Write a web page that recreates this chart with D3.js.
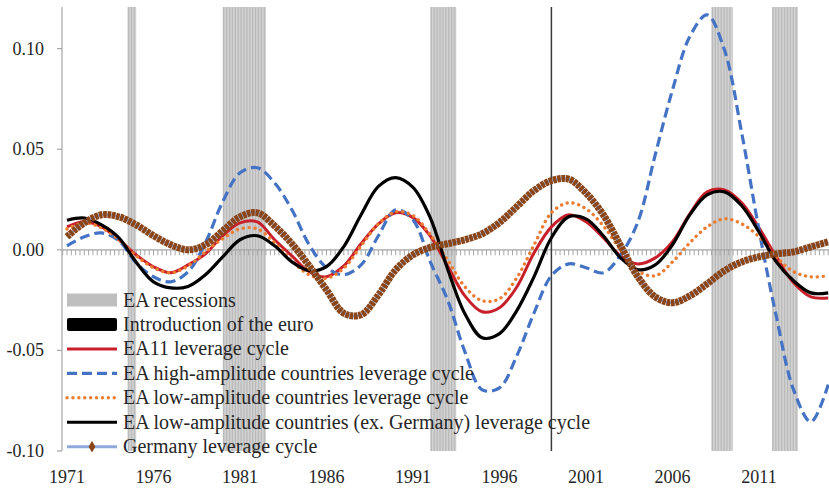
<!DOCTYPE html>
<html>
<head>
<meta charset="utf-8">
<script src="https://cdn.jsdelivr.net/npm/d3@7"></script>
<style>
  body { margin: 0; background: #fff; }
</style>
</head>
<body>
<div id="chart"></div>
<script>
// annual readings, 1971..2015
var years = d3.range(1971, 2016);

var ea11 = [0.0114,0.0139,0.0114,0.0050,-0.0025,-0.0084,-0.0114,-0.0075,-0.0020,0.0070,
            0.0134,0.0139,0.0050,-0.0030,-0.0109,-0.0134,-0.0080,0.0030,0.0129,0.0184,
            0.0160,0.0068,-0.0080,-0.0229,-0.0308,-0.0288,-0.0185,-0.0015,0.0114,0.0174,
            0.0139,0.0060,-0.0030,-0.0070,-0.0040,0.0040,0.0179,0.0288,0.0298,0.0234,
            0.0109,-0.0035,-0.0164,-0.0234,-0.0239];

var highAmp = [0.0020,0.0065,0.0084,0.0045,-0.0065,-0.0134,-0.0159,-0.0109,0.0035,0.0239,
               0.0383,0.0408,0.0333,0.0199,0.0025,-0.0089,-0.0124,-0.0075,0.0070,0.0199,
               0.0149,-0.0060,-0.0249,-0.0507,-0.0696,-0.0686,-0.0527,-0.0313,-0.0129,-0.0070,
               -0.0089,-0.0114,-0.0025,0.0139,0.0472,0.0795,0.1060,0.1168,0.0994,0.0581,
               0.0099,-0.0331,-0.0696,-0.0855,-0.0670];

var lowAmp = [0.0104,0.0134,0.0109,0.0050,-0.0030,-0.0089,-0.0114,-0.0080,-0.0010,0.0055,
              0.0104,0.0104,0.0035,-0.0055,-0.0124,-0.0141,-0.0091,0.0020,0.0129,0.0189,
              0.0170,0.0075,-0.0050,-0.0184,-0.0253,-0.0243,-0.0139,0.0025,0.0184,0.0234,
              0.0204,0.0119,0.0000,-0.0104,-0.0129,-0.0060,0.0035,0.0114,0.0154,0.0129,
              0.0065,-0.0035,-0.0109,-0.0134,-0.0129];

var lowAmpExDe = [0.0147,0.0158,0.0124,0.0060,-0.0062,-0.0159,-0.0189,-0.0182,-0.0124,-0.0035,
                  0.0050,0.0070,0.0020,-0.0060,-0.0104,-0.0083,0.0016,0.0174,0.0315,0.0359,
                  0.0310,0.0159,-0.0095,-0.0318,-0.0437,-0.0417,-0.0302,-0.0133,0.0060,0.0164,
                  0.0154,0.0070,-0.0040,-0.0099,-0.0075,0.0025,0.0174,0.0273,0.0288,0.0219,
                  0.0089,-0.0060,-0.0154,-0.0214,-0.0214];

var germany = [0.0065,0.0134,0.0174,0.0164,0.0124,0.0070,0.0025,0.0000,0.0025,0.0094,
               0.0164,0.0184,0.0119,0.0030,-0.0080,-0.0199,-0.0315,-0.0323,-0.0224,-0.0099,
               -0.0025,0.0012,0.0030,0.0050,0.0080,0.0136,0.0215,0.0295,0.0344,0.0351,
               0.0282,0.0174,0.0020,-0.0134,-0.0234,-0.0263,-0.0229,-0.0169,-0.0104,-0.0060,
               -0.0035,-0.0020,-0.0010,0.0015,0.0040];

// recession periods (start, end) in years
var recStart = [1974.5, 1980.0, 1992.0, 2008.25, 2011.75];
var recEnd   = [1975.0, 1982.5, 1993.5, 2009.5, 2013.25];
var euroYear = 1999;

var xLabels = [1971, 1976, 1981, 1986, 1991, 1996, 2001, 2006, 2011];
var yTicks = [-0.10, -0.05, 0.00, 0.05, 0.10];

var legendNames = ["EA recessions", "Introduction of the euro", "EA11 leverage cycle",
  "EA high-amplitude countries leverage cycle", "EA low-amplitude countries leverage cycle",
  "EA low-amplitude countries (ex. Germany) leverage cycle", "Germany leverage cycle"];

var FONT = "'Liberation Serif'";
var W = 829, H = 489;
var svg = d3.select('#chart').append('svg').attr('width', W).attr('height', H);

var x = d3.scaleLinear().domain([1971, 2015]).range([67, 828.2]);
var y = d3.scaleLinear().domain([-0.10, 0.12]).range([451, 8.4]);
var axisX = 62, plotTop = 7, plotBottom = 451;

// recession bars, drawn as fine vertical stripes
recStart.forEach(function (s, i) {
  var x0 = x(s), x1 = x(recEnd[i]);
  var g = svg.append('g');
  g.append('rect').attr('x', x0).attr('y', plotTop).attr('width', x1 - x0).attr('height', plotBottom - plotTop)
    .attr('fill', '#d2d2d2');
  g.selectAll('line').data(d3.range(x0 + 1, x1 - 0.5, 2.9)).enter().append('line')
    .attr('x1', function (d) { return d; }).attr('x2', function (d) { return d; })
    .attr('y1', plotTop).attr('y2', plotBottom)
    .attr('stroke', '#bababa').attr('stroke-width', 1.3);
});

// y axis
svg.append('line').attr('x1', axisX).attr('x2', axisX).attr('y1', plotTop).attr('y2', plotBottom)
  .attr('stroke', '#a6a6a6').attr('stroke-width', 1.2);
svg.append('g').selectAll('line').data(yTicks).enter().append('line')
  .attr('x1', axisX - 5).attr('x2', axisX).attr('y1', function (d) { return y(d); }).attr('y2', function (d) { return y(d); })
  .attr('stroke', '#a6a6a6').attr('stroke-width', 1.2);
svg.append('g').selectAll('text').data(yTicks).enter().append('text')
  .attr('x', 44).attr('y', function (d) { return y(d) + 6; })
  .attr('text-anchor', 'end').style('font-family', FONT).style('font-size', '18px').style('fill', '#262626')
  .text(function (d) { return d.toFixed(2); });

// x axis at zero with quarterly ticks
var qTicks = d3.range(0, 178).map(function (i) { return 1970.75 + i * 0.25; });
svg.append('g').selectAll('line').data(qTicks).enter().append('line')
  .attr('x1', function (d) { return x(d); }).attr('x2', function (d) { return x(d); })
  .attr('y1', y(0)).attr('y2', y(0) + 5.5)
  .attr('stroke', '#a6a6a6').attr('stroke-width', 1);
svg.append('line').attr('x1', axisX).attr('x2', W).attr('y1', y(0)).attr('y2', y(0))
  .attr('stroke', '#a6a6a6').attr('stroke-width', 1.3);
svg.append('g').selectAll('text').data(xLabels).enter().append('text')
  .attr('x', function (d) { return x(d); }).attr('y', 483)
  .attr('text-anchor', 'middle').style('font-family', FONT).style('font-size', '18px').style('fill', '#262626')
  .text(function (d) { return d; });

// euro line
svg.append('line').attr('x1', x(euroYear)).attr('x2', x(euroYear)).attr('y1', plotTop).attr('y2', plotBottom)
  .attr('stroke', '#3a3a3a').attr('stroke-width', 1.5);

var line = d3.line()
  .x(function (d, i) { return x(years[i]); })
  .y(function (d) { return y(d); })
  .curve(d3.curveCatmullRom.alpha(0.5));

var styles = [
  { data: ea11, color: '#c8202a', width: 3, dash: null },
  { data: highAmp, color: '#4472c4', width: 3.2, dash: '10,5' },
  { data: lowAmp, color: '#ed7d31', width: 3.4, dash: '0.1,5.8', cap: 'round' },
  { data: lowAmpExDe, color: '#000', width: 3.2, dash: null }
];
styles.forEach(function (s) {
  svg.append('path').datum(s.data).attr('d', line)
    .attr('fill', 'none').attr('stroke', s.color).attr('stroke-width', s.width)
    .attr('stroke-dasharray', s.dash).attr('stroke-linecap', s.cap || 'butt');
});

// Germany: light blue line under dense brown markers
svg.append('path').datum(germany).attr('d', line)
  .attr('fill', 'none').attr('stroke', '#8faadc').attr('stroke-width', 2.5);
svg.append('path').datum(germany).attr('d', line)
  .attr('fill', 'none').attr('stroke', '#8a4519').attr('stroke-width', 7)
  .attr('stroke-dasharray', '3.6,0.7');

// legend
var lg = svg.append('g');
var ly = function (i) { return 300 + i * 24.45; };
lg.append('rect').attr('x', 67).attr('y', ly(0) - 6.5).attr('width', 50).attr('height', 13).attr('fill', '#bfbfbf');
lg.append('rect').attr('x', 67).attr('y', ly(1) - 6.5).attr('width', 50).attr('height', 13).attr('rx', 2).attr('fill', '#000');
styles.forEach(function (s, i) {
  lg.append('line').attr('x1', 67).attr('x2', 117).attr('y1', ly(i + 2)).attr('y2', ly(i + 2))
    .attr('stroke', s.color).attr('stroke-width', s.width)
    .attr('stroke-dasharray', s.dash).attr('stroke-linecap', s.cap || 'butt');
});
lg.append('line').attr('x1', 67).attr('x2', 117).attr('y1', ly(6)).attr('y2', ly(6))
  .attr('stroke', '#8faadc').attr('stroke-width', 3);
lg.append('path').attr('d', d3.symbol().type(d3.symbolDiamond).size(40))
  .attr('transform', 'translate(92,' + ly(6) + ')').attr('fill', '#8a4519');
lg.selectAll('text').data(legendNames).enter().append('text')
  .attr('x', 123).attr('y', function (d, i) { return ly(i) + 6.5; })
  .style('font-family', FONT).style('font-size', '20px').style('fill', '#262626')
  .text(function (d) { return d; });
</script>
</body>
</html>
